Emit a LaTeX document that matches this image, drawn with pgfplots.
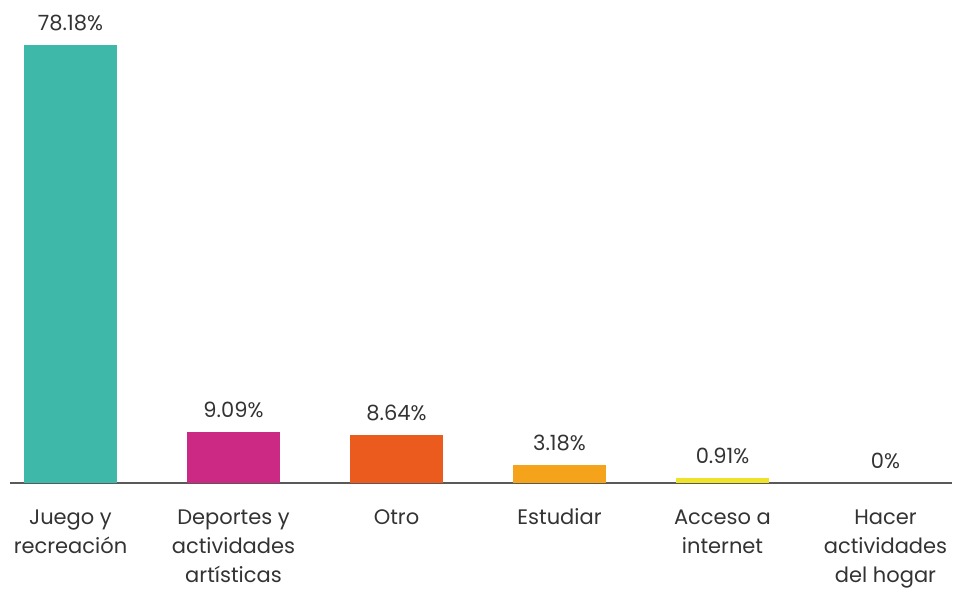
\documentclass[border=0pt]{standalone}
\usepackage{pgfplots}
\pgfplotsset{compat=1.18}
\usepackage{fontspec}
\setmainfont{Poppins}
\definecolor{cteal}{HTML}{3DB8A9}
\definecolor{cmag}{HTML}{CC2984}
\definecolor{cred}{HTML}{EB5B1E}
\definecolor{corange}{HTML}{F4A31A}
\definecolor{cyellow}{HTML}{EFE22A}
\definecolor{ctext}{HTML}{333333}
\begin{document}
\begin{tikzpicture}
\useasboundingbox (0,0) rectangle (478pt,295pt);
\begin{axis}[
  at={(5pt,53.5pt)}, anchor=south west,
  scale only axis, width=471pt, height=234pt,
  xmin=-0.371, xmax=5.408, ymin=0, ymax=83.5,
  axis x line*=bottom, axis y line=none,
  x axis line style={-, draw=black!65, line width=0.75pt},
  xtick={0,1,2,3,4,5}, major tick length=0pt,
  xticklabels={{\strut Juego y\\recreación},{\strut Deportes y\\actividades\\artísticas},{\strut Otro},{\strut Estudiar},{\strut Acceso a\\internet},{\strut Hacer\\actividades\\del hogar}},
  xticklabel style={align=center, anchor=north, font=\fontsize{10.5pt}{14.6pt}\selectfont, text=ctext, yshift=-7pt},
  /pgf/number format/assume math mode=true,
  ybar, bar width=46.5pt, bar shift=0pt,
  nodes near coords={\pgfmathprintnumber[fixed,precision=2]{\pgfplotspointmeta}\%},
  nodes near coords style={font=\fontsize{10.5pt}{12pt}\selectfont, text=ctext, yshift=3.5pt},
  clip=false,
]
\addplot[fill=cteal, draw=none] coordinates {(0,78.18)};
\addplot[fill=cmag, draw=none] coordinates {(1,9.09)};
\addplot[fill=cred, draw=none] coordinates {(2,8.64)};
\addplot[fill=corange, draw=none] coordinates {(3,3.18)};
\addplot[fill=cyellow, draw=none] coordinates {(4,0.91)};
\addplot[fill=none, draw=none] coordinates {(5,0)};
\end{axis}
\end{tikzpicture}
\end{document}
